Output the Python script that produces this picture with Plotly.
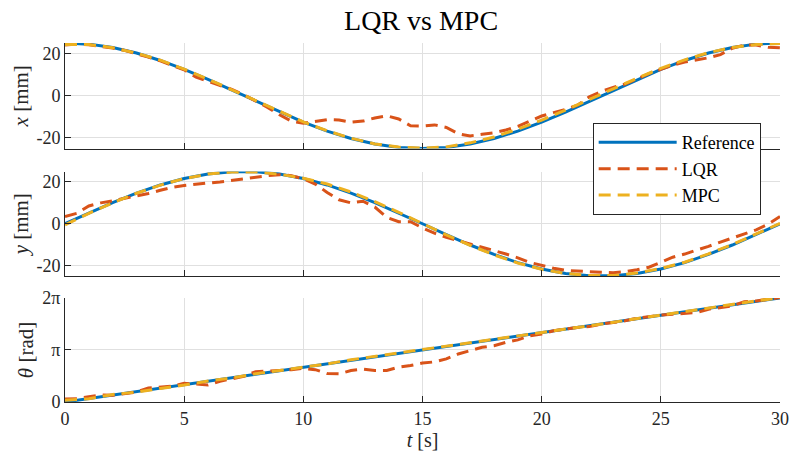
import numpy as np
import plotly.graph_objects as go

# ---------------- data ----------------
t_ref = list(range(0, 31))
x_ref = [25.0, 24.46, 22.84, 20.23, 16.73, 12.5, 7.73, 2.61, -2.61, -7.73, -12.5,
         -16.73, -20.23, -22.84, -24.46, -25.0, -24.46, -22.84, -20.23, -16.73, -12.5,
         -7.73, -2.61, 2.61, 7.73, 12.5, 16.73, 20.23, 22.84, 24.46, 25.0]
y_ref = [0.0, 5.2, 10.17, 14.69, 18.58, 21.65, 23.78, 24.86, 24.86, 23.78, 21.65,
         18.58, 14.69, 10.17, 5.2, 0.0, -5.2, -10.17, -14.69, -18.58, -21.65,
         -23.78, -24.86, -24.86, -23.78, -21.65, -18.58, -14.69, -10.17, -5.2, 0.0]
th_ref = [0.0, 0.21, 0.42, 0.63, 0.84, 1.05, 1.26, 1.47, 1.68, 1.88, 2.09,
          2.30, 2.51, 2.72, 2.93, 3.14, 3.35, 3.56, 3.77, 3.98, 4.19,
          4.40, 4.61, 4.82, 5.03, 5.24, 5.45, 5.65, 5.86, 6.07, 6.28]

t_lqr = [i * 0.5 for i in range(61)]
x_lqr = [24.0, 24.5, 24.2, 23.5, 22.6, 21.5, 20.0, 18.3, 16.5, 14.5, 12.3,
         8.8, 6.8, 4.8, 3.0, 0.5, -2.5, -5.5, -9.0, -12.0, -13.0,
         -12.0, -11.3, -11.5, -12.5, -12.0, -10.5, -9.5, -11.0, -14.2, -14.3,
         -13.8, -15.0, -18.0, -19.0, -18.2, -17.5, -16.2, -14.5, -12.0, -9.6,
         -8.0, -6.5, -4.5, -0.5, 2.0, 4.0, 5.5, 8.0, 10.5, 12.5,
         14.5, 16.0, 17.0, 18.0, 19.5, 22.5, 24.0, 24.0, 23.0, 22.7]
y_lqr = [3.5, 5.0, 8.5, 10.0, 11.0, 12.2, 13.2, 14.5, 16.0, 17.5, 18.3,
         19.0, 19.5, 20.0, 20.8, 21.5, 22.3, 23.0, 23.5, 23.0, 21.5,
         19.0, 15.0, 11.5, 10.0, 10.8, 8.0, 3.0, 1.0, 1.0, -2.0,
         -4.5, -6.5, -8.0, -9.5, -11.0, -12.8, -14.5, -16.3, -18.5, -20.0,
         -21.3, -22.3, -22.7, -22.9, -23.2, -23.4, -23.0, -22.0, -20.8, -18.5,
         -16.0, -14.5, -12.8, -10.8, -8.8, -6.8, -4.8, -2.9, -0.2, 3.5]
th_lqr = [0.18, 0.2, 0.32, 0.42, 0.4, 0.5, 0.6, 0.85, 0.9, 0.95, 1.13,
          1.1, 1.03, 1.25, 1.38, 1.55, 1.83, 1.85, 1.9, 1.95, 2.03,
          1.95, 1.72, 1.7, 1.9, 1.98, 1.9, 1.9, 2.1, 2.2, 2.35,
          2.42, 2.6, 2.9, 3.1, 3.3, 3.4, 3.6, 3.75, 4.0, 4.1,
          4.3, 4.4, 4.5, 4.55, 4.7, 4.8, 4.9, 5.05, 5.15, 5.25,
          5.3, 5.35, 5.4, 5.6, 5.68, 5.8, 6.05, 6.1, 6.2, 6.3]

t_mpc = list(range(0, 31))
x_mpc = [24.3, 24.3, 22.8, 20.2, 16.9, 12.6, 7.9, 2.8, -2.5, -7.6, -12.4,
         -16.6, -20.1, -22.8, -24.3, -24.8, -24.2, -22.3, -19.5, -15.8, -11.5,
         -6.8, -1.8, 3.4, 8.3, 13.0, 17.0, 20.4, 22.9, 24.3, 24.8]
y_mpc = [-0.5, 5.0, 10.0, 14.6, 18.5, 21.6, 23.8, 24.8, 24.8, 23.7, 21.8,
         19.0, 15.2, 10.6, 5.5, 0.1, -5.3, -10.3, -14.9, -18.8, -21.8,
         -23.8, -24.8, -24.8, -23.6, -21.4, -18.4, -14.4, -9.9, -4.9, 0.2]
th_mpc = [0.1, 0.2, 0.45, 0.6, 0.82, 1.02, 1.27, 1.45, 1.7, 1.9, 2.1,
          2.3, 2.55, 2.76, 2.95, 3.15, 3.35, 3.58, 3.78, 3.98, 4.2,
          4.4, 4.6, 4.82, 5.03, 5.25, 5.45, 5.68, 5.88, 6.1, 6.3]

x_ticks = [0, 5, 10, 15, 20, 25, 30]
mm_ticks = [-20, 0, 20]
mm_ticktext = ["-20", "0", "20"]
th_ticks = [0, np.pi, 2 * np.pi]
th_ticktext = ["0", "π", "2π"]

# ---------------- styles ----------------
FONT = "'Liberation Serif', 'DejaVu Serif', 'Times New Roman', serif"
C_REF = "#0072BD"
C_LQR = "#D95319"
C_MPC = "#EDB120"
AX = "#262626"
GRID = "#E0E0E0"
DASH = "12px,7px"

fig = go.Figure()
panels = [(x_ref, x_lqr, x_mpc, "", ""), (y_ref, y_lqr, y_mpc, "2", "2"),
          (th_ref, th_lqr, th_mpc, "3", "3")]
for k, (r, l, m, xa, ya) in enumerate(panels):
    show = (k == 0)
    fig.add_trace(go.Scatter(x=t_ref, y=r, mode="lines", name="Reference",
                             line=dict(color=C_REF, width=3), showlegend=show,
                             xaxis="x" + xa, yaxis="y" + ya))
    fig.add_trace(go.Scatter(x=t_lqr, y=l, mode="lines", name="LQR",
                             line=dict(color=C_LQR, width=3, dash=DASH), showlegend=show,
                             xaxis="x" + xa, yaxis="y" + ya))
    fig.add_trace(go.Scatter(x=t_mpc, y=m, mode="lines", name="MPC",
                             line=dict(color=C_MPC, width=3, dash=DASH), showlegend=show,
                             xaxis="x" + xa, yaxis="y" + ya))

common_x = dict(range=[0, 30], tickvals=x_ticks, showgrid=True, gridcolor=GRID, gridwidth=1,
                zeroline=False, showline=True, linecolor=AX, linewidth=1, mirror=False,
                ticks="inside", ticklen=6, tickcolor=AX, tickwidth=1, automargin=False,
                tickfont=dict(family=FONT, size=18, color=AX))
common_y = dict(showgrid=True, gridcolor=GRID, gridwidth=1, zeroline=False, showline=True,
                linecolor=AX, linewidth=1, mirror=False, ticks="inside", ticklen=6,
                tickcolor=AX, tickwidth=1, automargin=False,
                tickfont=dict(family=FONT, size=18, color=AX))

TITLE_FONT = dict(family=FONT, size=21, color=AX)

fig.update_layout(
    width=790, height=459,
    margin=dict(l=65, r=10, t=43, b=57),
    paper_bgcolor="white", plot_bgcolor="white",
    font=dict(family=FONT),
    title=dict(text="LQR vs MPC", x=0.533, xanchor="center", y=0.955, yanchor="middle",
               font=dict(family=FONT, size=28, color="black")),
    xaxis=dict(common_x, domain=[0, 1], anchor="y", showticklabels=False),
    xaxis2=dict(common_x, domain=[0, 1], anchor="y2", showticklabels=False, matches="x"),
    xaxis3=dict(common_x, domain=[0, 1], anchor="y3", matches="x",
                title=dict(text="<i>t</i> [s]", font=dict(family=FONT, size=20, color=AX), standoff=4)),
    yaxis=dict(common_y, domain=[0.706, 1.0], range=[-25, 25], tickvals=mm_ticks, ticktext=mm_ticktext,
               title=dict(text="<i>x</i> [mm]", font=TITLE_FONT, standoff=2)),
    yaxis2=dict(common_y, domain=[0.351, 0.642], range=[-25, 25], tickvals=mm_ticks, ticktext=mm_ticktext,
                title=dict(text="<i>y</i> [mm]", font=TITLE_FONT, standoff=2)),
    yaxis3=dict(common_y, domain=[0.0, 0.29], range=[0, 2 * np.pi], tickvals=th_ticks, ticktext=th_ticktext,
                title=dict(text="<i>θ</i> [rad]", font=TITLE_FONT, standoff=2)),
    legend=dict(x=0.738, y=0.777, xanchor="left", yanchor="top",
                bgcolor="white", bordercolor=AX, borderwidth=1,
                font=dict(family=FONT, size=18, color="black"),
                tracegroupgap=0, itemwidth=78),
    showlegend=True,
)

fig.write_html("out.html")
